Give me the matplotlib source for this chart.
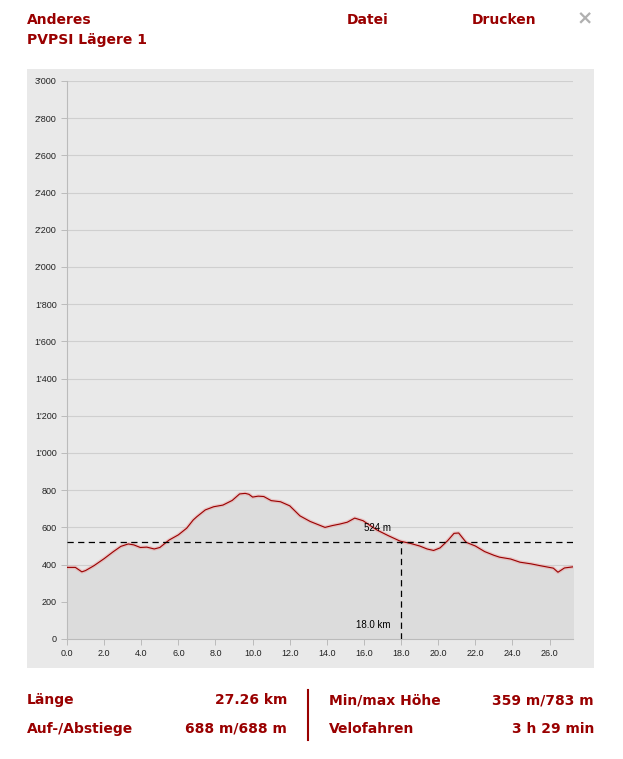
import matplotlib.pyplot as plt
from matplotlib.patches import Rectangle
from matplotlib.lines import Line2D
from matplotlib.ticker import FuncFormatter

# elevation profile
dist_km = [0.0, 0.45, 0.8, 1.0, 1.45, 2.0, 2.5, 2.9, 3.3, 3.6, 3.95, 4.3, 4.7, 5.0,
           5.5, 6.0, 6.45, 6.8, 7.0, 7.45, 7.9, 8.4, 8.9, 9.3, 9.6, 9.8, 10.0,
           10.3, 10.6, 11.0, 11.5, 12.0, 12.55, 13.1, 13.5, 13.9, 14.3, 14.7,
           15.1, 15.5, 15.95, 16.3, 16.7, 17.3, 17.95, 18.5, 19.0, 19.4, 19.75,
           20.1, 20.5, 20.85, 21.1, 21.5, 22.0, 22.5, 23.0, 23.3, 23.9, 24.4,
           25.0, 25.5, 26.2, 26.45, 26.8, 27.26]
elev_m = [385, 385, 361, 368, 394, 432, 470, 498, 511, 506, 492, 494, 484, 492,
          532, 560, 596, 640, 658, 694, 711, 720, 745, 780, 783, 778, 763,
          768, 766, 744, 738, 716, 662, 632, 616, 600, 610, 618,
          628, 650, 636, 612, 586, 556, 526, 514, 500, 484, 476,
          490, 528, 568, 570, 520, 500, 470, 450, 440, 430, 413,
          404, 394, 381, 359, 382, 388]

marker_km = 18.0
marker_m = 524
y_ticks = list(range(0, 3001, 200))
x_ticks = [0, 2, 4, 6, 8, 10, 12, 14, 16, 18, 20, 22, 24, 26]

stats_left = [("Länge", "27.26 km"), ("Auf-/Abstiege", "688 m/688 m")]
stats_right = [("Min/max Höhe", "359 m/783 m"), ("Velofahren", "3 h 29 min")]

red = "#990000"
W, H = 623, 759


def fx(px):
    return px / W


def fy(py):
    return 1 - py / H


fig = plt.figure(figsize=(W / 100, H / 100), dpi=100)
fig.patch.set_facecolor("white")

# gray panel behind the chart
fig.patches.append(Rectangle((fx(27), fy(668)), fx(594) - fx(27), fy(69) - fy(668),
                             transform=fig.transFigure, facecolor="#e9e9e9",
                             edgecolor="none", zorder=-5))

ax = fig.add_axes([fx(67), fy(639), fx(573) - fx(67), fy(81) - fy(639)])
ax.set_facecolor("none")
ax.set_xlim(0, dist_km[-1])
ax.set_ylim(0, 3000)

ax.fill_between(dist_km, elev_m, 0, color="#dcdcdc", zorder=1)
ax.plot(dist_km, elev_m, color="#e89a9a", linewidth=2.6, alpha=0.45, zorder=3)
ax.plot(dist_km, elev_m, color="#9a0000", linewidth=0.8, zorder=4)

dash = (0, (5, 3.5))
ax.axhline(marker_m, color="black", linestyle=dash, linewidth=0.9, zorder=5)
ax.plot([marker_km, marker_km], [0, marker_m], color="black",
        linestyle=dash, linewidth=0.9, zorder=5)
ax.text(marker_km - 0.55, marker_m + 45, f"{marker_m} m", fontsize=7,
        ha="right", va="bottom", family="Liberation Sans", zorder=6)
ax.text(marker_km - 0.55, 50, f"{marker_km:.1f} km", fontsize=7,
        ha="right", va="bottom", family="Liberation Sans", zorder=6)

ax.set_yticks(y_ticks)
ax.set_xticks(x_ticks)
ax.yaxis.set_major_formatter(FuncFormatter(
    lambda v, p: f"{int(v):,}".replace(",", "'")))
ax.xaxis.set_major_formatter(FuncFormatter(lambda v, p: f"{v:.1f}"))
ax.grid(axis="y", color="#cfcfcf", linewidth=0.8, zorder=0)
ax.set_axisbelow(True)
ax.tick_params(axis="both", colors="#bbbbbb", labelcolor="#222222",
               labelsize=6.5, length=4, width=0.7)
for lab in ax.get_xticklabels() + ax.get_yticklabels():
    lab.set_family("Liberation Sans")
for side in ["top", "right"]:
    ax.spines[side].set_visible(False)
for side in ["left", "bottom"]:
    ax.spines[side].set_color("#bbbbbb")
    ax.spines[side].set_linewidth(0.8)

# header
head = dict(color=red, fontsize=10, fontweight="bold", va="center",
            family="DejaVu Sans")
fig.text(fx(27), fy(20), "Anderes", **head)
fig.text(fx(27), fy(40), "PVPSI Lägere 1", **head)
fig.text(fx(347), fy(20), "Datei", **head)
fig.text(fx(472), fy(20), "Drucken", **head)
fig.text(fx(585), fy(19), "×", color="#b0b0b0", fontsize=14, ha="center",
         va="center", fontweight="bold")

# stats below the chart
rows_y = [700, 729]
for (lab, val), py in zip(stats_left, rows_y):
    fig.text(fx(27), fy(py), lab, **head)
    fig.text(fx(287), fy(py), val, ha="right", **head)
for (lab, val), py in zip(stats_right, rows_y):
    fig.text(fx(329), fy(py), lab, **head)
    fig.text(fx(594), fy(py), val, ha="right", **head)
fig.lines.append(Line2D([fx(308), fx(308)], [fy(690), fy(740)],
                        transform=fig.transFigure, color=red, linewidth=1.5))

fig.savefig("out.png", dpi=100)
